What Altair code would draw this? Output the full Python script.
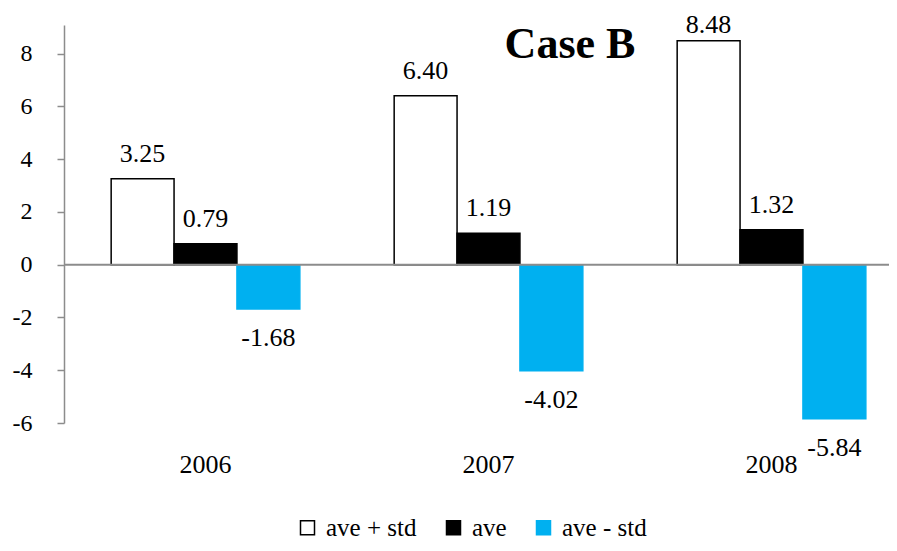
import altair as alt
import pandas as pd

years = ["2006", "2007", "2008"]
series = ["ave + std", "ave", "ave - std"]
ave_plus_std = [3.25, 6.40, 8.48]
ave_vals = [0.79, 1.19, 1.32]
ave_minus_std = [-1.68, -4.02, -5.84]
y_ticks = [-6, -4, -2, 0, 2, 4, 6, 8]
fills = ["white", "black", "#00B0F0"]
strokes = ["black", "black", "#00B0F0"]
title_text = ["Case B"]

rows = []
for i, yr in enumerate(years):
    for s, vals in zip(series, [ave_plus_std, ave_vals, ave_minus_std]):
        rows.append({"year": yr, "series": s, "value": vals[i], "label": f"{vals[i]:.2f}"})
df = pd.DataFrame(rows)

FONT = "Liberation Serif"
GRAY = "#8c8c8c"
W, H = 825, 398

x_enc = alt.X(
    "year:N", sort=years,
    scale=alt.Scale(range=[0, 849], paddingInner=0, paddingOuter=0),
    axis=alt.Axis(title=None, labelAngle=0, ticks=False, domain=False,
                  labelFontSize=26, labelPadding=28, labelBaseline="top",
                  labelFont=FONT),
)
xoff_enc = alt.XOffset("series:N", sort=series,
                       scale=alt.Scale(paddingInner=0, paddingOuter=0.75))
y_scale = alt.Scale(domain=[-6, 9.08], nice=False)
y_axis = alt.Axis(values=y_ticks, title=None, grid=False, tickSize=7,
                  tickColor=GRAY, domainColor=GRAY, domainWidth=1.5, tickWidth=1.5,
                  labelFontSize=24, labelPadding=25, labelFont=FONT,
                  labelExpr="'' + datum.value")
y_enc = alt.Y("value:Q", stack=False, scale=y_scale, axis=y_axis)

legend = alt.Legend(orient="none", legendX=231, legendY=490,
                    direction="horizontal", symbolType="square",
                    symbolSize=196, symbolStrokeWidth=1.5,
                    labelFontSize=25, labelOffset=6, columnPadding=24,
                    labelFont=FONT)

base = alt.Chart(df)

bars = base.mark_bar(strokeWidth=1.5).encode(
    x=x_enc,
    xOffset=xoff_enc,
    y=y_enc,
    fill=alt.Fill("series:N", sort=series, title=None,
                  scale=alt.Scale(domain=series, range=fills), legend=legend),
    stroke=alt.Stroke("series:N", sort=series, title=None,
                      scale=alt.Scale(domain=series, range=strokes), legend=legend),
)

rule = alt.Chart(pd.DataFrame({"value": [0]})).mark_rule(
    color=GRAY, strokeWidth=2).encode(y=y_enc)

label_y = alt.Y("ly:Q", stack=False, scale=y_scale, axis=y_axis)

pos_text = base.transform_filter("datum.value >= 0").transform_calculate(
    ly="min(datum.value, 8.15)"
).mark_text(
    font=FONT, fontSize=26, color="black", baseline="alphabetic", dy=-17
).encode(x=x_enc, xOffset=xoff_enc, y=label_y, text="label:N")

neg_text = base.transform_filter("datum.value < 0").transform_calculate(
    ly="datum.value"
).mark_text(
    font=FONT, fontSize=26, color="black", baseline="alphabetic", dy=37
).encode(x=x_enc, xOffset=xoff_enc, y=label_y, text="label:N")

title = alt.Chart(pd.DataFrame({"t": title_text})).mark_text(
    font=FONT, fontSize=44, fontWeight="bold", align="center",
    baseline="alphabetic", color="black"
).encode(x=alt.value(506), y=alt.value(33), text="t:N")

chart = alt.layer(bars, rule, pos_text, neg_text, title).properties(
    width=W, height=H,
    padding={"left": 56, "top": 17, "right": 0, "bottom": 120},
    autosize=alt.AutoSizeParams(type="none"),
).configure(font=FONT).configure_view(stroke="transparent").configure_axis(
    labelFont=FONT, labelColor="black"
).configure_legend(
    labelFont=FONT, labelColor="black"
)

chart.save("out.html", embed_options={"renderer": "svg", "actions": False})
